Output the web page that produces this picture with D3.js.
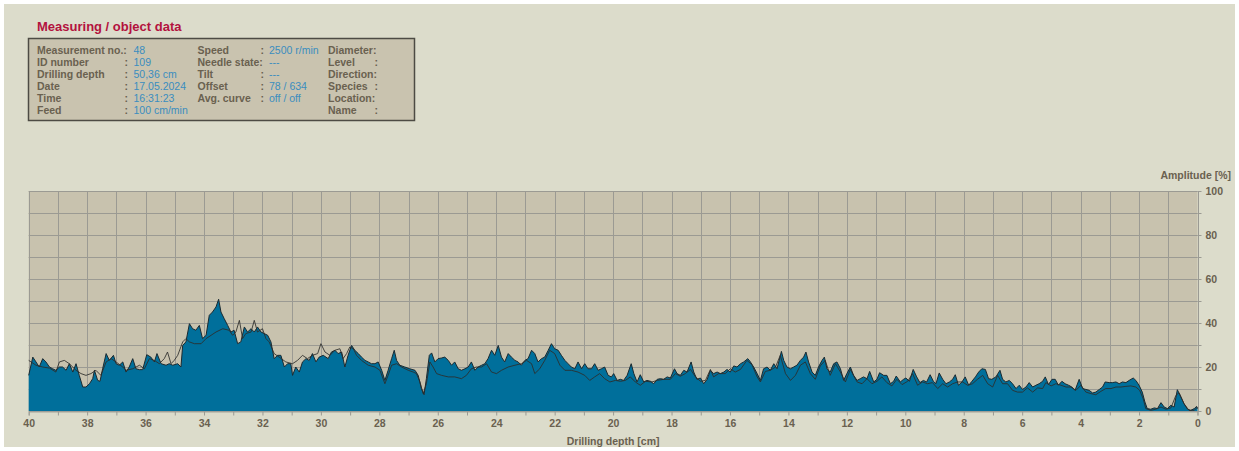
<!DOCTYPE html>
<html>
<head>
<meta charset="utf-8">
<script src="https://cdn.jsdelivr.net/npm/d3@7"></script>
<style>
  html, body { margin: 0; padding: 0; background: #ffffff; }
  svg { display: block; font-family: "Liberation Sans", Arial, sans-serif; }
</style>
</head>
<body>
<svg id="chart" width="1239" height="451"></svg>
<script>
// Drill resistance profile (filled) along drilling depth [cm]
const ampDepth = [
  40.00,39.86,39.75,39.64,39.52,39.41,39.29,39.18,39.07,38.95,38.84,38.72,38.61,38.49,38.38,38.27,38.15,38.04,37.92,37.81,
  37.75,37.64,37.56,37.47,37.35,37.24,37.10,37.01,36.90,36.78,36.67,36.56,36.44,36.33,36.21,36.10,35.96,35.82,35.70,35.61,
  35.47,35.30,35.19,35.07,34.90,34.79,34.73,34.62,34.50,34.39,34.28,34.16,34.05,33.93,33.82,33.71,33.59,33.50,33.42,33.31,
  33.19,33.08,32.97,32.85,32.74,32.62,32.51,32.39,32.28,32.17,32.05,31.94,31.82,31.71,31.60,31.48,31.37,31.25,31.14,31.03,
  30.97,30.86,30.74,30.63,30.51,30.40,30.29,30.17,30.06,
  29.92,29.75,29.64,29.52,29.41,29.29,29.18,29.07,28.95,28.84,28.72,28.61,28.49,28.38,28.27,28.15,28.04,27.92,27.81,27.70,
  27.58,27.49,27.41,27.30,27.13,26.96,26.78,26.67,26.56,26.47,26.39,26.29,26.21,26.10,25.99,25.87,25.76,25.64,25.53,25.42,
  25.30,25.19,25.07,24.96,24.85,24.73,24.62,24.50,24.39,24.28,24.16,24.05,23.93,23.82,23.71,23.59,23.48,23.36,23.25,23.14,
  23.02,22.91,22.79,22.68,22.57,22.45,22.34,22.22,22.11,22.00,21.88,21.77,21.65,21.54,21.43,21.31,21.20,21.08,20.97,20.86,
  20.74,20.63,20.51,20.40,20.29,20.17,20.06,
  19.98,19.86,19.75,19.64,19.52,19.38,19.29,19.18,19.07,18.95,18.84,18.72,18.61,18.49,18.38,18.27,18.15,18.04,17.90,17.81,
  17.70,17.58,17.47,17.33,17.24,17.13,17.01,16.90,16.78,16.67,16.56,16.44,16.33,16.21,16.10,15.99,15.87,15.76,15.64,15.53,
  15.39,15.30,15.19,15.07,14.96,14.85,14.73,14.62,14.50,14.39,14.24,14.16,14.05,13.93,13.82,13.71,13.59,13.48,13.40,13.31,
  13.19,13.08,12.97,12.85,12.77,12.68,12.57,12.45,12.34,12.22,12.11,12.00,11.88,11.77,11.65,11.54,11.43,11.31,11.22,11.08,
  10.97,10.88,10.74,10.63,10.51,10.40,10.31,10.17,10.06,
  9.98,9.86,9.73,9.61,9.50,9.38,9.27,9.15,9.04,8.95,8.84,8.72,8.61,8.49,8.38,8.29,8.18,8.06,7.95,7.83,
  7.72,7.60,7.49,7.38,7.26,7.15,7.04,6.90,6.76,6.67,6.56,6.44,6.33,6.21,6.10,5.99,5.87,5.76,5.64,5.53,
  5.42,5.30,5.21,5.10,4.98,4.87,4.76,4.64,4.53,4.41,4.30,4.19,4.05,3.93,3.82,3.71,3.59,3.48,3.36,3.25,
  3.16,3.02,2.91,2.79,2.68,2.57,2.45,2.34,2.20,2.11,2.00,1.89,1.80,1.72,1.60,1.48,1.37,1.25,1.14,1.03,
  0.91,0.80,0.69,0.57,0.46,0.34,0.23,0.11,0.03,0.00
];
const ampValue = [
  16.2,24.5,22.3,20.0,23.8,22.3,20.0,19.2,18.5,20.0,20.0,18.5,21.5,17.7,21.5,16.2,10.9,10.9,12.4,14.7,
  18.5,13.9,13.5,19.2,26.1,23.0,25.3,21.5,20.8,22.3,17.7,20.0,23.8,19.2,18.8,18.8,25.6,24.5,22.3,26.1,
  21.5,20.8,21.5,20.8,21.5,20.0,29.8,31.4,39.7,37.4,36.7,38.9,32.9,34.4,43.5,45.0,47.3,50.8,45.0,42.0,
  38.9,35.9,36.7,30.6,31.4,38.2,35.9,37.4,35.9,38.2,35.9,35.2,34.4,31.4,23.8,25.3,25.3,20.0,21.5,21.5,
  16.2,20.0,17.7,22.3,23.8,23.0,26.1,22.3,24.5,
  25.3,23.8,26.8,27.6,26.1,26.8,20.0,25.3,29.8,27.6,26.1,24.5,23.0,22.3,21.5,21.5,22.3,18.5,13.9,18.5,
  23.8,27.6,23.0,20.8,20.0,19.2,18.5,16.2,10.2,7.4,14.7,25.3,26.4,22.3,23.8,24.1,24.5,23.0,20.8,22.3,
  19.2,18.5,19.2,20.0,22.3,18.5,20.0,20.8,21.5,23.8,27.6,25.3,29.8,24.5,22.3,26.1,24.5,23.0,22.3,20.8,
  23.0,23.8,27.6,26.1,22.3,23.8,24.5,27.6,30.6,28.3,27.6,25.3,23.0,21.5,20.0,19.2,22.3,19.2,21.5,19.2,
  19.2,21.5,18.5,19.2,20.0,16.2,15.5,
  17.0,13.9,14.4,13.9,16.2,21.5,17.0,13.2,16.5,13.2,13.9,13.5,12.4,14.4,14.7,14.4,15.5,15.0,19.2,17.0,
  16.2,18.5,17.7,22.3,17.7,14.4,15.0,12.4,14.4,18.5,17.0,17.7,17.0,17.7,18.9,17.7,20.5,20.0,21.5,22.3,
  23.8,22.3,20.0,17.0,13.9,19.2,20.0,18.5,21.5,19.2,27.1,23.0,20.0,19.2,20.0,20.8,23.0,24.5,26.8,22.3,
  17.7,16.2,20.0,23.0,24.5,19.2,17.7,21.5,22.3,19.2,13.9,17.0,20.0,16.2,13.9,14.7,15.5,14.7,18.0,13.2,
  14.4,17.4,16.2,16.2,12.4,13.5,15.9,13.2,14.4,
  15.0,13.5,18.9,15.5,12.9,13.9,13.2,16.5,13.5,12.4,17.3,14.4,12.4,13.2,14.4,16.5,11.7,13.2,15.5,11.7,
  13.5,15.5,17.7,19.2,18.9,14.7,14.4,15.5,18.5,14.4,13.2,13.9,12.4,10.2,11.7,9.8,10.9,12.9,10.9,11.7,
  12.4,13.5,15.5,12.0,14.4,14.4,11.7,13.5,12.4,11.7,10.9,9.4,14.4,10.2,9.8,9.4,8.2,8.6,9.8,10.9,
  13.2,12.9,12.9,13.2,12.4,13.2,12.9,13.9,15.0,13.9,11.7,8.6,4.1,1.1,0.8,1.4,1.1,3.8,1.8,1.1,
  2.6,1.8,9.7,6.4,3.3,0.8,0.3,1.1,2.1,1.1
];

// Second trace drawn over the profile
const traceDepth = [
  40.00,39.75,39.52,39.29,39.07,38.95,38.78,38.61,38.38,38.21,38.04,37.87,37.70,37.53,37.35,37.18,37.01,36.78,36.67,36.44,
  36.21,36.04,35.87,35.70,35.53,35.36,35.25,35.13,35.02,34.90,34.73,34.62,34.50,34.33,34.10,33.93,33.76,33.59,33.36,33.14,
  33.02,32.91,32.79,32.68,32.57,32.39,32.28,32.17,32.00,31.88,31.77,31.60,31.43,31.20,30.97,30.80,30.63,30.46,30.29,30.11,
  30.00,29.86,29.69,29.52,29.35,29.24,29.12,29.01,28.89,28.78,28.61,28.38,28.15,27.98,27.81,27.70,27.58,27.41,27.24,27.01,
  26.84,26.73,26.61,26.50,26.39,26.27,26.16,26.04,25.87,25.64,25.42,25.19,25.02,24.85,24.68,24.50,24.33,24.16,23.99,23.82,
  23.59,23.36,23.14,22.96,22.79,22.68,22.51,22.34,22.17,22.00,21.82,21.65,21.43,21.20,20.97,20.80,20.63,20.46,20.29,20.11,
  19.92,19.75,19.58,19.41,19.24,19.07,18.89,18.67,18.49,18.27,18.04,17.87,17.70,17.53,17.35,17.18,17.01,16.84,16.67,16.56,
  16.39,16.16,15.99,15.82,15.64,15.42,15.25,15.07,14.96,14.79,14.62,14.44,14.28,14.10,13.93,13.76,13.59,13.42,13.25,13.08,
  12.91,12.74,12.57,12.39,12.22,12.05,11.88,11.65,11.48,11.31,11.14,10.97,10.80,10.63,10.46,10.29,10.11,
  9.92,9.75,9.58,9.41,9.24,9.07,8.89,8.72,8.55,8.38,8.21,8.04,7.87,7.70,7.53,7.35,7.18,7.01,6.84,6.67,
  6.50,6.33,6.16,5.99,5.82,5.64,5.47,5.30,5.19,5.01,4.85,4.67,4.50,4.33,4.16,3.99,3.82,3.65,3.48,3.31,
  3.14,2.96,2.79,2.62,2.45,2.28,2.11,1.98,1.86,1.77,1.60,1.43,1.25,1.08,0.91,0.74,0.63,0.46,0.29,0.11,
  0.00
];
const traceValue = [
  23.0,20.8,20.0,19.5,17.7,22.3,23.0,21.5,18.5,17.0,16.2,17.0,18.5,16.2,22.3,23.8,22.3,20.0,18.5,19.2,
  20.8,19.2,23.8,23.0,21.5,23.8,26.8,21.5,23.0,25.3,31.4,32.9,31.4,30.6,30.6,32.9,34.4,35.9,37.4,36.7,
  34.4,35.9,41.2,32.9,35.2,35.9,41.2,35.9,37.4,32.9,31.4,26.1,24.5,22.3,21.5,23.0,25.3,23.8,25.3,26.1,
  30.6,26.8,25.3,27.6,28.3,23.8,26.1,29.1,28.3,25.3,23.0,20.8,20.0,18.5,12.4,16.2,20.8,21.5,20.0,18.5,
  17.7,17.0,13.2,7.9,12.4,22.3,20.0,17.0,16.2,15.5,15.5,14.7,16.2,19.2,20.0,20.0,21.5,17.7,17.0,18.5,
  20.0,20.8,21.5,23.0,21.5,17.0,19.2,23.0,27.6,26.1,20.8,18.5,18.5,17.7,16.2,13.9,15.5,17.0,14.7,13.2,
  13.9,13.5,13.9,15.5,13.2,11.7,13.5,13.2,13.9,14.4,14.4,17.0,15.8,17.0,18.9,15.5,13.5,13.9,18.9,15.5,
  17.0,17.0,19.2,17.7,18.9,23.0,21.1,15.5,13.2,18.0,18.5,20.0,25.3,17.0,13.9,16.2,20.8,22.3,17.0,14.4,
  20.5,23.0,16.2,21.5,17.7,13.2,18.9,13.2,12.4,14.7,12.4,13.5,15.5,12.9,11.4,14.4,12.0,
  13.5,17.0,11.7,13.2,12.4,12.9,10.2,12.4,10.9,12.4,13.2,13.2,11.7,12.4,14.4,16.2,12.4,10.9,16.2,12.4,
  12.4,9.4,8.6,8.6,10.5,8.6,10.5,10.2,12.9,11.4,12.4,11.7,10.9,10.9,9.4,11.7,8.6,7.9,7.4,8.9,
  10.2,10.2,10.9,10.9,11.2,11.4,10.9,9.4,5.6,1.1,0.3,0.8,1.8,0.8,1.4,7.1,8.3,3.3,0.3,0.3,
  1.8
];

// Axis ticks
const depthTicks = d3.range(0, 41, 1);
const ampTicks = d3.range(0, 101, 10);

// Header block
const titleText = "Measuring / object data";
const col1Labels = ["Measurement no.:", "ID number", "Drilling depth", "Date", "Time", "Feed"];
const col1Values = ["48", "109", "50,36 cm", "17.05.2024", "16:31:23", "100 cm/min"];
const col2Labels = ["Speed", "Needle state:", "Tilt", "Offset", "Avg. curve", ""];
const col2Values = ["2500 r/min", "---", "---", "78 / 634", "off / off", ""];
const col3Labels = ["Diameter:", "Level", "Direction:", "Species", "Location:", "Name"];

const labelColor = "#6a6150";
const valueColor = "#3a8dbf";

const svg = d3.select("#chart");

svg.append("rect")
  .attr("x", 4).attr("y", 4).attr("width", 1231).attr("height", 443)
  .attr("fill", "#dcdccb");

// ---------- header ----------
svg.append("text")
  .attr("x", 37).attr("y", 31)
  .attr("font-size", 13).attr("font-weight", "bold")
  .attr("fill", "#b3123e")
  .text(titleText);

svg.append("rect")
  .attr("x", 28.5).attr("y", 38.5).attr("width", 386).attr("height", 82)
  .attr("fill", "#c9c3af")
  .attr("stroke", "#4d4b44").attr("stroke-width", 1.5);

const rowY = i => 54 + i * 12;
const info = svg.append("g").attr("font-size", 10.5);

col1Labels.forEach((t, i) => {
  info.append("text").attr("x", 37).attr("y", rowY(i))
    .attr("font-weight", "bold").attr("fill", labelColor).text(t);
  if (!t.endsWith(":")) {
    info.append("text").attr("x", 124.5).attr("y", rowY(i))
      .attr("font-weight", "bold").attr("fill", labelColor).text(":");
  }
  info.append("text").attr("x", 133.5).attr("y", rowY(i))
    .attr("fill", valueColor).text(col1Values[i]);
});

col2Labels.forEach((t, i) => {
  if (!t) return;
  info.append("text").attr("x", 197.5).attr("y", rowY(i))
    .attr("font-weight", "bold").attr("fill", labelColor).text(t);
  if (!t.endsWith(":")) {
    info.append("text").attr("x", 260.5).attr("y", rowY(i))
      .attr("font-weight", "bold").attr("fill", labelColor).text(":");
  }
  info.append("text").attr("x", 269).attr("y", rowY(i))
    .attr("fill", valueColor).text(col2Values[i]);
});

col3Labels.forEach((t, i) => {
  info.append("text").attr("x", 328).attr("y", rowY(i))
    .attr("font-weight", "bold").attr("fill", labelColor).text(t);
  if (!t.endsWith(":")) {
    info.append("text").attr("x", 374.5).attr("y", rowY(i))
      .attr("font-weight", "bold").attr("fill", labelColor).text(":");
  }
});

// ---------- plot ----------
const plot = { left: 28.7, right: 1197.5, top: 191, bottom: 411 };
const x = d3.scaleLinear().domain([40, 0]).range([plot.left, plot.right]);
const y = d3.scaleLinear().domain([0, 100]).range([plot.bottom, plot.top]);

svg.append("rect")
  .attr("x", plot.left).attr("y", plot.top)
  .attr("width", plot.right - plot.left).attr("height", plot.bottom - plot.top)
  .attr("fill", "#c8c2ae");

const grid = svg.append("g").attr("stroke", "#9b9a93").attr("stroke-width", 1);
grid.selectAll("line.v").data(depthTicks).join("line")
  .attr("x1", d => Math.round(x(d)) + 0.5).attr("x2", d => Math.round(x(d)) + 0.5)
  .attr("y1", plot.top).attr("y2", plot.bottom);
grid.selectAll("line.h").data(ampTicks).join("line")
  .attr("x1", plot.left).attr("x2", plot.right)
  .attr("y1", d => Math.round(y(d)) + 0.5).attr("y2", d => Math.round(y(d)) + 0.5);

const ampData = ampDepth.map((d, i) => ({ depth: d, amp: ampValue[i] }));
const traceData = traceDepth.map((d, i) => ({ depth: d, amp: traceValue[i] }));

const area = d3.area()
  .x(d => x(d.depth)).y0(y(0)).y1(d => y(d.amp));
const line = d3.line()
  .x(d => x(d.depth)).y(d => y(d.amp));

svg.append("path").datum(ampData)
  .attr("d", area).attr("fill", "#006f9b");

svg.append("path").datum(ampData)
  .attr("d", line).attr("fill", "none")
  .attr("stroke", "#1b2a31").attr("stroke-width", 1);

svg.append("path").datum(traceData)
  .attr("d", line).attr("fill", "none")
  .attr("stroke", "#2d2d2a").attr("stroke-width", 1).attr("stroke-opacity", 0.85);

// ---------- axes ----------
const xAxis = d3.axisBottom(x)
  .tickValues(depthTicks)
  .tickSize(4).tickPadding(4)
  .tickFormat(d => d % 2 === 0 ? d : "");
const gx = svg.append("g")
  .attr("transform", `translate(0,${plot.bottom + 0.5})`)
  .call(xAxis);
gx.select(".domain").attr("stroke", "#a3a39a");
gx.selectAll(".tick line").attr("stroke", "#9b9a93");
gx.selectAll(".tick text")
  .attr("fill", labelColor).attr("font-size", 10.5).attr("font-weight", "bold")
  .attr("font-family", "Liberation Sans, Arial, sans-serif");

const yAxis = d3.axisRight(y)
  .tickValues(ampTicks)
  .tickSize(4).tickPadding(4)
  .tickFormat(d => d % 20 === 0 ? d : "");
const gy = svg.append("g")
  .attr("transform", `translate(${plot.right},0)`)
  .call(yAxis);
gy.select(".domain").remove();
gy.selectAll(".tick line").attr("stroke", "#9b9a93");
gy.selectAll(".tick text")
  .attr("fill", labelColor).attr("font-size", 10.5).attr("font-weight", "bold")
  .attr("font-family", "Liberation Sans, Arial, sans-serif");

svg.append("text")
  .attr("x", (plot.left + plot.right) / 2).attr("y", 445)
  .attr("text-anchor", "middle")
  .attr("font-size", 10.5).attr("font-weight", "bold").attr("fill", labelColor)
  .text("Drilling depth [cm]");

svg.append("text")
  .attr("x", 1231).attr("y", 179)
  .attr("text-anchor", "end")
  .attr("font-size", 10.5).attr("font-weight", "bold").attr("fill", labelColor)
  .text("Amplitude [%]");
</script>
</body>
</html>
